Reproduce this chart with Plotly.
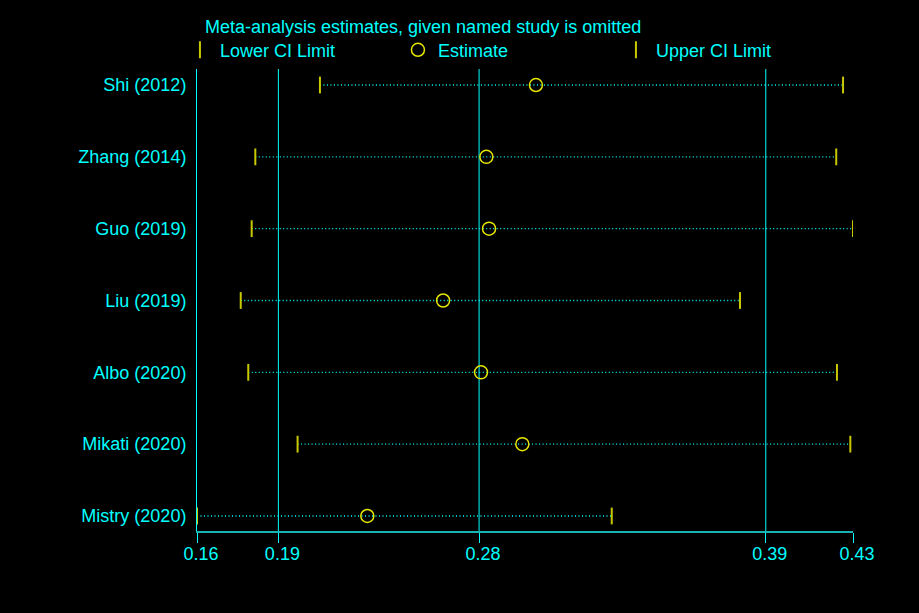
import plotly.graph_objects as go

# Influence analysis (one study omitted at a time)
studies = ["Shi (2012)", "Zhang (2014)", "Guo (2019)", "Liu (2019)",
           "Albo (2020)", "Mikati (2020)", "Mistry (2020)"]
lower = [0.2106, 0.1840, 0.1825, 0.1780, 0.1811, 0.2014, 0.1600]
estimate = [0.2995, 0.2791, 0.2802, 0.2613, 0.2769, 0.2939, 0.2301]
upper = [0.4259, 0.4231, 0.4300, 0.3835, 0.4234, 0.4289, 0.3307]

# x ticks: min lower, pooled lower CI, pooled estimate, pooled upper CI, max upper
tick_vals = [0.1600, 0.1935, 0.2761, 0.3941, 0.4300]
tick_text = ["0.16", "0.19", "0.28", "0.39", "0.43"]
ref_lines = [0.1935, 0.2761, 0.3941]

CYAN = "#00ffff"
TEAL = "#19b3b3"
YEL = "#e6e600"
OLIVE = "#c8c800"

n = len(studies)
ypos = [n - i for i in range(n)]  # first study on top

# dotted connectors lower -> upper
xs, ys = [], []
for lo, hi, y in zip(lower, upper, ypos):
    xs += [lo, hi, None]
    ys += [y, y, None]

fig = go.Figure()
fig.add_trace(go.Scatter(
    x=xs, y=ys, mode="lines", showlegend=False, hoverinfo="skip",
    line=dict(color=CYAN, width=1.3, dash="1px,2.5px"),
))
fig.add_trace(go.Scatter(
    x=lower, y=ypos, mode="markers", name="Lower CI Limit",
    marker=dict(symbol="line-ns", size=12, line=dict(color=OLIVE, width=2)),
))
fig.add_trace(go.Scatter(
    x=estimate, y=ypos, mode="markers", name="Estimate",
    marker=dict(symbol="circle-open", size=13, color=YEL, line=dict(width=1.5)),
))
fig.add_trace(go.Scatter(
    x=upper, y=ypos, mode="markers", name="Upper CI Limit",
    marker=dict(symbol="line-ns", size=12, line=dict(color=OLIVE, width=2)),
))

for v in ref_lines:
    fig.add_vline(x=v, line_color=CYAN, line_width=1, layer="below")

fig.update_xaxes(
    range=[tick_vals[0], tick_vals[-1]],
    tickmode="array", tickvals=tick_vals, ticktext=tick_text,
    showgrid=False, zeroline=False,
    showline=True, linecolor=TEAL, linewidth=2,
    ticks="outside", ticklen=10, tickcolor=CYAN, tickwidth=1,
    ticklabelstandoff=-5, ticklabelshift=4,
    tickfont=dict(size=18, color=CYAN),
)
fig.update_yaxes(
    range=[0.791, 7.223],
    tickmode="array", tickvals=ypos, ticktext=studies,
    showgrid=False, zeroline=False,
    showline=True, linecolor=CYAN, linewidth=1,
    ticks="", ticklabelstandoff=6,
    tickfont=dict(size=18, color=CYAN),
)

fig.add_annotation(
    text="Meta-analysis estimates, given named study is omitted",
    xref="paper", yref="paper", x=0.009, y=1.091,
    xanchor="left", yanchor="middle", showarrow=False,
    font=dict(size=18, color=CYAN),
)

fig.update_layout(
    width=919, height=613,
    paper_bgcolor="black", plot_bgcolor="black",
    font=dict(family="Liberation Sans, Arial, sans-serif", color=CYAN, size=18),
    margin=dict(l=197, r=66, t=69, b=82),
    showlegend=True,
    legend=dict(
        orientation="h", x=-0.026, xanchor="left", y=1.041, yanchor="middle",
        entrywidth=173, entrywidthmode="pixels",
        font=dict(size=18, color=CYAN), bgcolor="rgba(0,0,0,0)",
    ),
)

fig.write_html(
    "out.html",
    config={"displayModeBar": False},
    post_script="document.body.style.margin='0';"
                "document.body.style.background='black';",
)
